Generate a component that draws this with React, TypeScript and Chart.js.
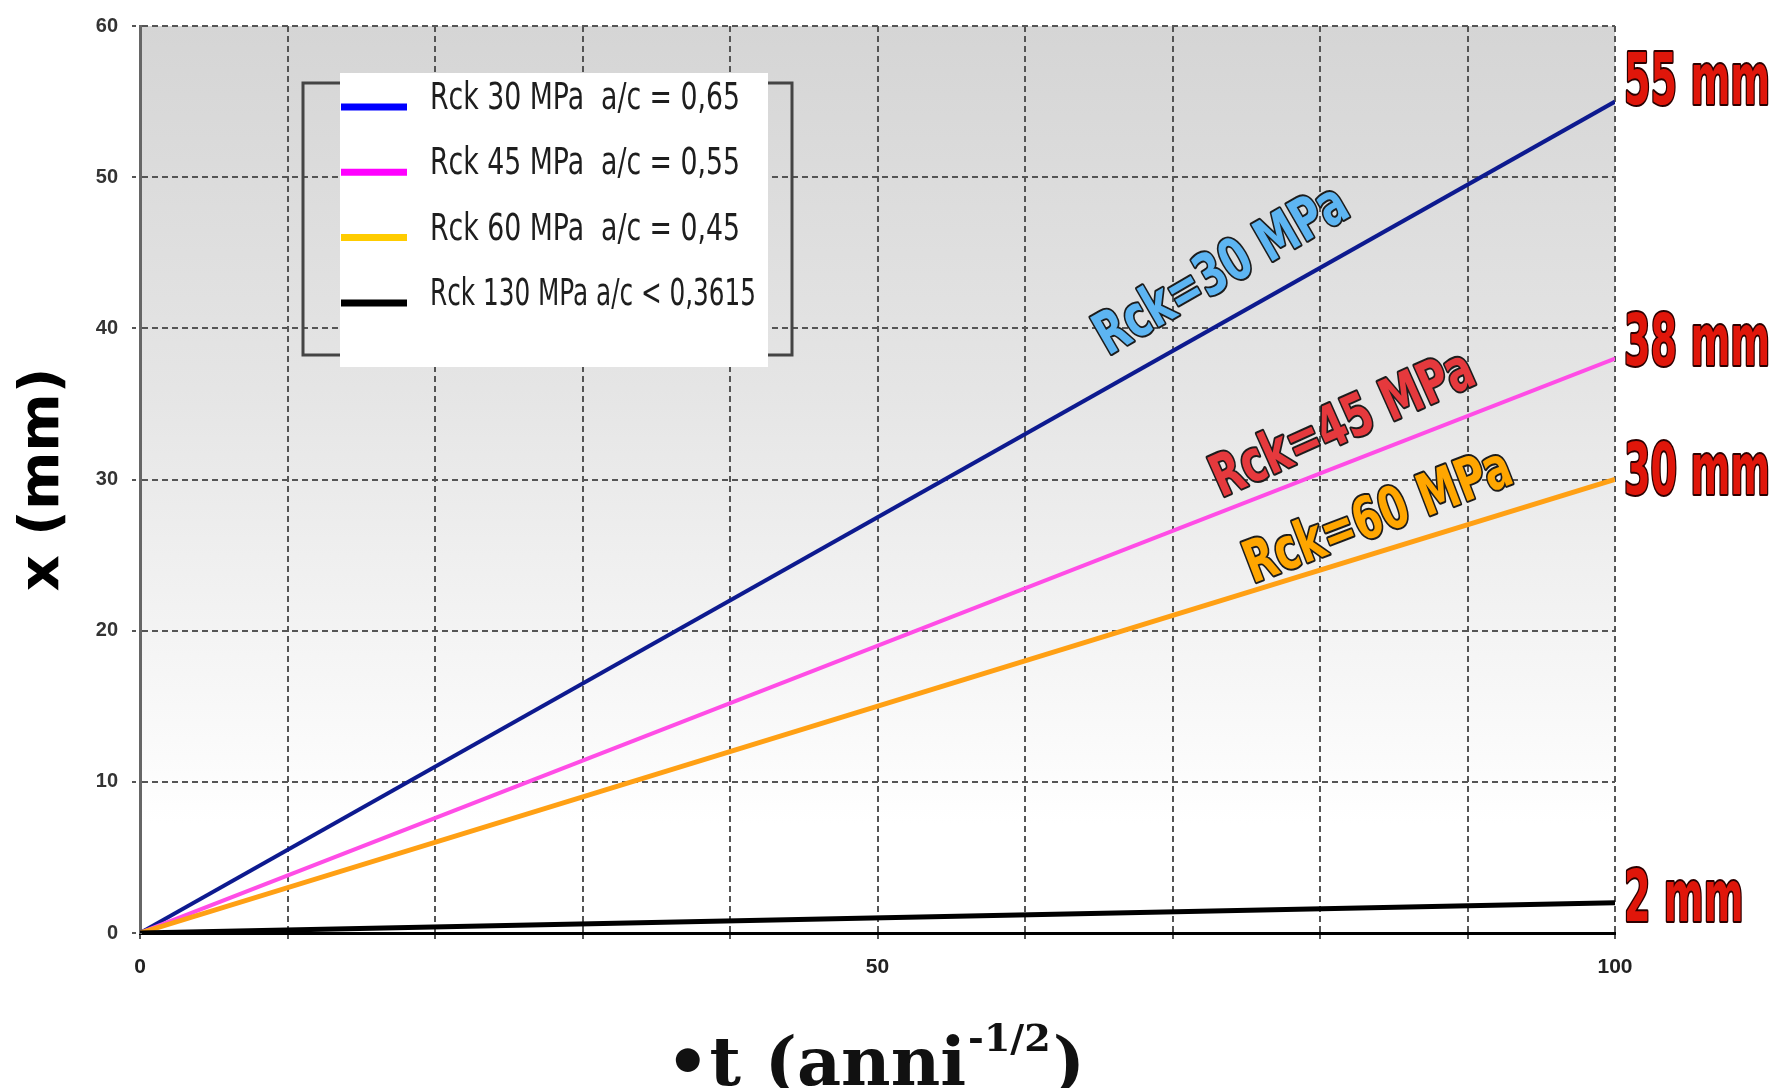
import React, { useEffect, useRef } from 'react';
import { Chart, registerables } from 'chart.js';

Chart.register(...registerables);

// ---- data ----
const tValues = [0, 100];
const rck30Depth = [0, 55];
const rck45Depth = [0, 38];
const rck60Depth = [0, 30];
const rck130Depth = [0, 2];

const seriesLabels = [
  'Rck 30 MPa  a/c = 0,65',
  'Rck 45 MPa  a/c = 0,55',
  'Rck 60 MPa  a/c = 0,45',
  'Rck 130 MPa a/c < 0,3615',
];
const lineColors = ['#0d1a8f', '#ff4de6', '#ffa014', '#000000'];
const legendColors = ['#0000ff', '#ff00ff', '#ffcc00', '#000000'];
const lineWidths = [4, 4, 5, 5];
const legendTextWidths = [310, 310, 310, 326];

const endLabels = ['55 mm', '38 mm', '30 mm', '2 mm'];
const endLabelValues = [56.1, 38.8, 30.3, 2.0];

const curveNames = ['Rck=30 MPa', 'Rck=45 MPa', 'Rck=60 MPa'];
const curveNameAt = [
  [73.4, 43.7],
  [81.6, 33.5],
  [84.0, 27.4],
];
const curveNameAngles = [30, 24, 21];
const curveNameColors = ['#5db5f2', '#e5393d', '#ffa600'];

const xTickLabels = [0, 50, 100];
const yTitle = 'x (mm)';
const xTitleMain = '\u2022t (anni';
const xTitleSup = '-1/2';
const xTitleEnd = ')';

const depthSeries = [rck30Depth, rck45Depth, rck60Depth, rck130Depth];

function toPoints(ys: number[]) {
  return tValues.map((t, i) => ({ x: t, y: ys[i] }));
}

const narrow = '"Liberation Sans Narrow", "DejaVu Sans Condensed", "Liberation Sans", sans-serif';

const backgroundPlugin = {
  id: 'plotBackground',
  beforeDraw(chart: any) {
    const { ctx, chartArea: a } = chart;
    const g = ctx.createLinearGradient(0, a.top, 0, a.bottom);
    g.addColorStop(0, '#d5d5d5');
    g.addColorStop(0.4, '#e5e5e5');
    g.addColorStop(0.75, '#f8f8f8');
    g.addColorStop(0.88, '#ffffff');
    g.addColorStop(1, '#ffffff');
    ctx.save();
    ctx.fillStyle = g;
    ctx.fillRect(a.left, a.top, a.right - a.left, a.bottom - a.top);
    ctx.restore();
  },
};

const annotationPlugin = {
  id: 'annotations',
  afterDatasetsDraw(chart: any) {
    const { ctx, scales } = chart;
    const xs = scales.x;
    const ys = scales.y;
    ctx.save();
    // curve names along lines
    curveNames.forEach((name, i) => {
      const px = xs.getPixelForValue(curveNameAt[i][0]);
      const py = ys.getPixelForValue(curveNameAt[i][1]);
      ctx.save();
      ctx.font = 'bold 58px ' + narrow;
      const w = ctx.measureText(name).width;
      const sx = 282 / w;
      ctx.translate(px, py);
      ctx.rotate((-curveNameAngles[i] * Math.PI) / 180);
      ctx.scale(sx, 1);
      ctx.textAlign = 'center';
      ctx.textBaseline = 'middle';
      ctx.lineJoin = 'round';
      ctx.lineWidth = 4;
      ctx.strokeStyle = '#1c1c1c';
      ctx.strokeText(name, 0, 0);
      ctx.fillStyle = curveNameColors[i];
      ctx.fillText(name, 0, 0);
      ctx.restore();
    });

    // legend box
    const box = { left: 340, top: 73, right: 768, bottom: 367 };
    const br = { left: 303, top: 83, right: 792, bottom: 355 };
    ctx.strokeStyle = '#444';
    ctx.lineWidth = 3;
    ctx.strokeRect(br.left, br.top, br.right - br.left, br.bottom - br.top);
    ctx.fillStyle = '#ffffff';
    ctx.fillRect(box.left, box.top, box.right - box.left, box.bottom - box.top);

    ctx.font = '37px ' + narrow;
    chart.data.datasets.forEach((ds: any, i: number) => {
      const sy = 107 + i * 65.3;
      ctx.strokeStyle = legendColors[i];
      ctx.lineWidth = 7;
      ctx.beginPath();
      ctx.moveTo(341, sy);
      ctx.lineTo(407, sy);
      ctx.stroke();
      const lsx = legendTextWidths[i] / ctx.measureText(ds.label).width;
      ctx.save();
      ctx.translate(430, sy + 2);
      ctx.scale(lsx, 1);
      ctx.fillStyle = '#1e1e1e';
      ctx.textAlign = 'left';
      ctx.textBaseline = 'alphabetic';
      ctx.fillText(ds.label, 0, 0);
      ctx.restore();
    });
    ctx.restore();
  },
  afterDraw(chart: any) {
    const { ctx, scales, chartArea: a } = chart;
    const ys = scales.y;
    ctx.save();
    // right end labels
    ctx.font = 'bold 72px ' + narrow;
    const esx = 146 / ctx.measureText(endLabels[0]).width;
    endLabels.forEach((txt, i) => {
      const py = ys.getPixelForValue(endLabelValues[i]);
      ctx.save();
      ctx.translate(a.right + 9, py);
      ctx.scale(esx, 1);
      ctx.textAlign = 'left';
      ctx.textBaseline = 'middle';
      ctx.lineJoin = 'round';
      ctx.lineWidth = 4;
      ctx.strokeStyle = '#2a0000';
      ctx.strokeText(txt, 0, 0);
      ctx.fillStyle = '#e0160a';
      ctx.fillText(txt, 0, 0);
      ctx.restore();
    });

    // x axis title with superscript
    const mainFont = 'bold 68px "DejaVu Serif", "Liberation Serif", serif';
    const supFont = 'bold 38px "DejaVu Serif", "Liberation Serif", serif';
    ctx.font = mainFont;
    const w1 = ctx.measureText(xTitleMain).width;
    const w3 = ctx.measureText(xTitleEnd).width;
    ctx.font = supFont;
    const w2 = ctx.measureText(xTitleSup).width;
    const total = w1 + w2 + w3;
    const target = 415;
    const tsx = target / total;
    const cx = (a.left + a.right) / 2 - 4;
    const baseY = 1085;
    ctx.save();
    ctx.translate(cx - target / 2, baseY);
    ctx.scale(tsx, 1);
    ctx.fillStyle = '#111';
    ctx.textAlign = 'left';
    ctx.textBaseline = 'alphabetic';
    ctx.font = mainFont;
    ctx.fillText(xTitleMain, 0, 0);
    ctx.font = supFont;
    ctx.fillText(xTitleSup, w1 + 2, -34);
    ctx.font = mainFont;
    ctx.fillText(xTitleEnd, w1 + w2 + 4, 0);
    ctx.restore();
    ctx.restore();
  },
};

export default function App() {
  const canvasRef = useRef<HTMLCanvasElement>(null);

  useEffect(() => {
    document.body.style.margin = '0';
    const canvas = canvasRef.current;
    if (!canvas) return;
    const chart = new Chart(canvas, {
      type: 'scatter',
      data: {
        datasets: depthSeries.map((ys, i) => ({
          label: seriesLabels[i],
          data: toPoints(ys),
          showLine: true,
          borderColor: lineColors[i],
          backgroundColor: lineColors[i],
          borderWidth: lineWidths[i],
          pointRadius: 0,
          fill: false,
          tension: 0,
          order: 3 - i,
        })),
      },
      options: {
        animation: false,
        responsive: true,
        maintainAspectRatio: false,
        layout: { padding: { left: 0, top: 17, right: 168, bottom: 0 } },
        plugins: {
          legend: { display: false },
          tooltip: { enabled: false },
        },
        scales: {
          x: {
            type: 'linear',
            min: 0,
            max: 100,
            afterFit: (s: any) => {
              s.height = 155;
            },
            ticks: {
              stepSize: 10,
              autoSkip: false,
              maxRotation: 0,
              padding: 14,
              color: '#222',
              font: { family: 'Liberation Sans', size: 21, weight: 'bold' },
              callback: (v: any) => (xTickLabels.includes(Number(v)) ? String(v) : ''),
            },
            grid: {
              color: (c: any) => (c.tick && c.tick.value === 0 ? 'rgba(0,0,0,0)' : '#555'),
              lineWidth: 2,
              tickLength: 8,
              tickColor: '#555',
              tickBorderDash: [4, 3],
            },
            border: { display: true, color: '#000', width: 3, dash: [6, 4] },
          },
          y: {
            type: 'linear',
            min: 0,
            max: 60,
            afterFit: (s: any) => {
              s.width = 140;
            },
            ticks: {
              stepSize: 10,
              padding: 14,
              color: '#333',
              font: { family: 'Liberation Sans', size: 20, weight: 'bold' },
            },
            grid: {
              color: (c: any) => (c.tick && c.tick.value === 0 ? 'rgba(0,0,0,0)' : '#555'),
              lineWidth: 2,
              tickLength: 8,
              tickColor: '#555',
              tickBorderDash: [4, 3],
            },
            border: { display: true, color: '#666', width: 3, dash: [6, 4] },
            title: {
              display: true,
              text: yTitle,
              color: '#000',
              font: { family: 'DejaVu Sans', size: 56, weight: 'bold' },
              padding: { top: 10, bottom: 0 },
            },
          },
        },
      },
      plugins: [backgroundPlugin, annotationPlugin],
    } as any);
    return () => chart.destroy();
  }, []);

  return (
    <div style={{ position: 'relative', width: 1783, height: 1088 }}>
      <canvas ref={canvasRef} />
    </div>
  );
}
